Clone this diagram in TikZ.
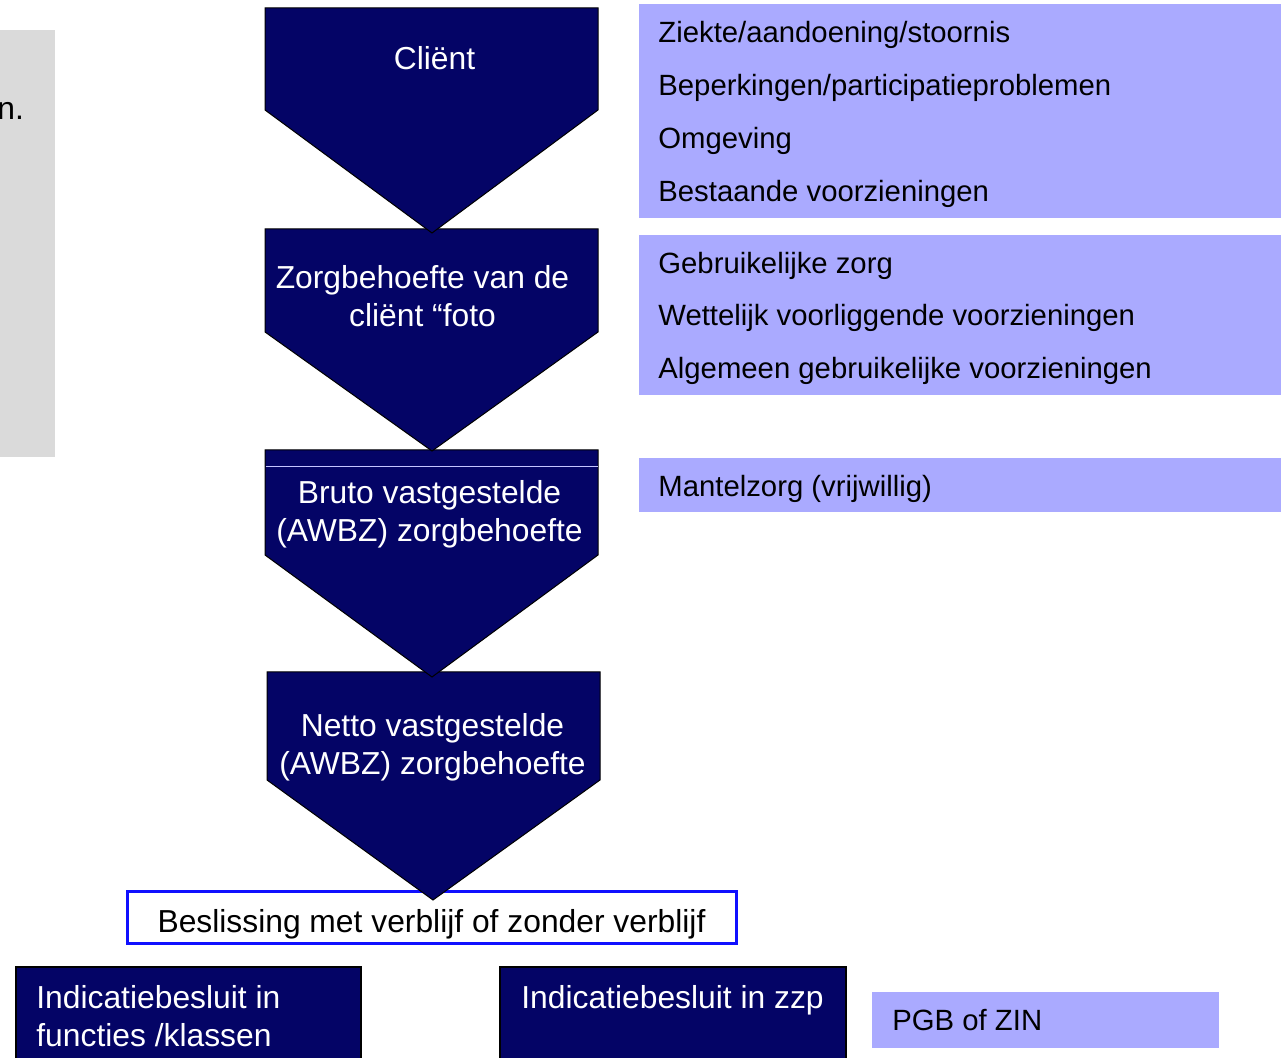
\documentclass[tikz,border=0pt]{standalone}
\usepackage{fontspec}
\setmainfont{Liberation Sans}
\definecolor{navy}{RGB}{4,4,102}
\definecolor{lav}{RGB}{170,170,255}
\definecolor{greybg}{RGB}{218,218,218}
\definecolor{bluebd}{RGB}{16,16,255}
\tikzset{
  arrowshape/.style={fill=navy, draw=black, line width=0.5pt, line join=miter},
  lavbox/.style={fill=lav},
  navybox/.style={fill=navy, draw=black, line width=0.6pt},
  bigwhite/.style={font=\fontsize{15.9}{19}\selectfont, text=white, align=center, inner sep=0pt},
  bigblack/.style={font=\fontsize{15.9}{19}\selectfont, text=black, inner sep=0pt},
  leftwhite/.style={font=\fontsize{15.9}{19}\selectfont, text=white, align=left, inner sep=0pt, anchor=west},
  lavtext/.style={font=\fontsize{14.65}{17}\selectfont, text=black, inner sep=0pt, anchor=west},
}
\begin{document}
\begin{tikzpicture}[x=0.5pt,y=-0.5pt]
\useasboundingbox (0,0) rectangle (1281,1058);
\clip (0,0) rectangle (1281,1058);
\fill[white] (0,0) rectangle (1281,1058);

% left grey panel
\fill[greybg] (0,30) rectangle (55,457);
\node[bigblack, anchor=west] (cut) at (-3,111) {n.};

% right lavender panels
\fill[lavbox] (639,4) rectangle (1281,218);
\fill[lavbox] (639,235) rectangle (1281,395);
\fill[lavbox] (639,458) rectangle (1281,512);
\node[lavtext] (r1) at (658,35) {Ziekte/aandoening/stoornis};
\node[lavtext] (r2) at (658,88) {Beperkingen/participatieproblemen};
\node[lavtext] (r3) at (658,141) {Omgeving};
\node[lavtext] (r4) at (658,194) {Bestaande voorzieningen};
\node[lavtext] (r5) at (658,266) {Gebruikelijke zorg};
\node[lavtext] (r6) at (658,318) {Wettelijk voorliggende voorzieningen};
\node[lavtext] (r7) at (658,371) {Algemeen gebruikelijke voorzieningen};
\node[lavtext] (r8) at (658,489) {Mantelzorg (vrijwillig)};

% bottom boxes
\filldraw[navybox] (16,967) rectangle (361,1075);
\filldraw[navybox] (500,967) rectangle (846,1075);
\fill[lavbox] (872,992) rectangle (1219,1048);
\node[leftwhite] (b1) at (36,1016) {Indicatiebesluit in\\functies /klassen};
\node[leftwhite] (b2) at (521,1000) {Indicatiebesluit in zzp};
\node[lavtext] (b3) at (892,1020) {PGB of ZIN};

% decision box
\filldraw[fill=white, draw=bluebd, line width=1.5pt] (127,892) rectangle (736,944);
\node[bigblack] (dec) at (431.5,924) {Beslissing met verblijf of zonder verblijf};

% chevron arrows (drawn bottom-up so tips overlap next one)
\filldraw[arrowshape] (267,672) -- (600,672) -- (600,780) -- (433,900) -- (267,780) -- cycle;
\filldraw[arrowshape] (265,450) -- (598,450) -- (598,555) -- (432,677) -- (265,555) -- cycle;
\draw[lav!70!white, line width=0.5pt] (265.5,467) -- (597.5,467);
\filldraw[arrowshape] (265,229) -- (598,229) -- (598,332) -- (432,451) -- (265,332) -- cycle;
\filldraw[arrowshape] (265,8) -- (598,8) -- (598,110) -- (432,233) -- (265,110) -- cycle;

\node[bigwhite] (a1) at (434.5,58) {Cliënt};
\node[bigwhite] (a2) at (422.5,296) {Zorgbehoefte van de\\cliënt “foto};
\node[bigwhite] (a3) at (429.5,514) {Bruto vastgestelde\\(AWBZ) zorgbehoefte};
\node[bigwhite] (a4) at (432.5,747) {Netto vastgestelde\\(AWBZ) zorgbehoefte};
\end{tikzpicture}
\end{document}
